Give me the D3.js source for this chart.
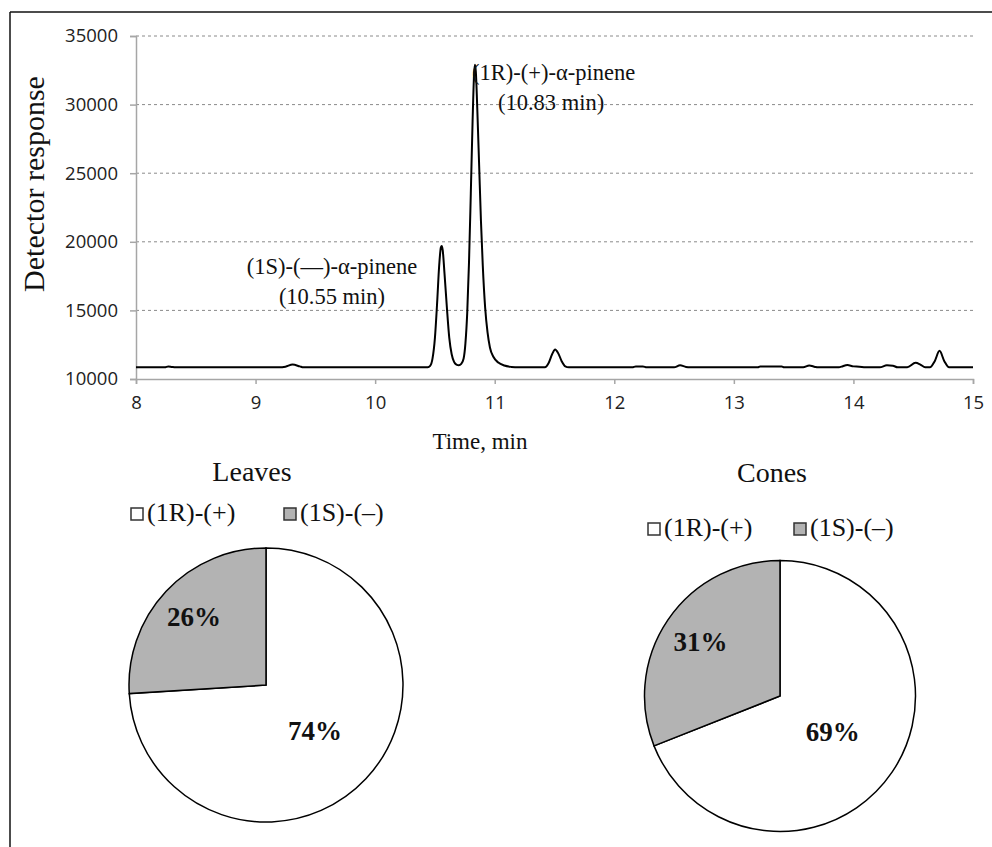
<!DOCTYPE html>
<html>
<head>
<meta charset="utf-8">
<script src="https://cdn.jsdelivr.net/npm/d3@7"></script>
<style>
  html, body { margin: 0; padding: 0; background: #fff; }
  svg { display: block; }
</style>
</head>
<body>
<svg id="chart" width="992" height="847"></svg>
<script>
// ---------------- DATA ----------------
const xTicks = [8, 9, 10, 11, 12, 13, 14, 15];
const yTicks = [10000, 15000, 20000, 25000, 30000, 35000];

// chromatogram trace: [time (min), detector response]
const traceTime = [
  8.00, 8.24, 8.27, 8.30, 8.33,
  9.20, 9.25, 9.31, 9.37, 9.40,
  10.44, 10.46, 10.48, 10.50, 10.52, 10.535, 10.55, 10.557, 10.565, 10.58, 10.60, 10.62, 10.64, 10.66, 10.68, 10.70, 10.72,
  10.74, 10.755, 10.77, 10.785, 10.80, 10.815, 10.828, 10.835, 10.842, 10.855, 10.87, 10.885, 10.90, 10.92, 10.94, 10.96, 10.99, 11.03, 11.08, 11.14, 11.20,
  11.42, 11.45, 11.48, 11.505, 11.53, 11.56, 11.59, 11.62,
  12.15, 12.18, 12.24, 12.27,
  12.50, 12.55, 12.60, 12.63,
  13.20, 13.22, 13.40, 13.42,
  13.58, 13.63, 13.68, 13.70,
  13.88, 13.90, 13.95, 14.00, 14.05, 14.10,
  14.22, 14.28, 14.33, 14.37,
  14.45, 14.52, 14.56, 14.60, 14.64,
  14.68, 14.72, 14.76, 14.80, 15.00
];
const traceResponse = [
  10850, 10850, 10920, 10880, 10850,
  10850, 10900, 11050, 10920, 10850,
  10850, 10950, 11500, 13000, 15800, 18200, 19600, 19700, 19400, 17700, 15200, 13000, 11800, 11250, 11050, 11000, 11100,
  11500, 12600, 14800, 18500, 23500, 28800, 32300, 32900, 32400, 29500, 25500, 21500, 18300, 15200, 13400, 12300, 11600, 11200, 10980, 10880, 10850,
  10850, 11150, 11800, 12150, 11900, 11300, 10920, 10850,
  10850, 10920, 10920, 10850,
  10850, 11000, 10880, 10850,
  10850, 10920, 10920, 10850,
  10850, 10980, 10880, 10850,
  10850, 10900, 11020, 10920, 10900, 10850,
  10850, 11000, 10970, 10850,
  10850, 11180, 11050, 10850, 10850,
  11300, 12050, 11300, 10850, 10850
];

const peakLabels = [
  ["(1R)-(+)-α-pinene", "(10.83 min)"],
  ["(1S)-(—)-α-pinene", "(10.55 min)"]
];

// pie data
const enantiomers = ["(1R)-(+)", "(1S)-(–)"];
const pieTitles = ["Leaves", "Cones"];
const leavesShare = [74, 26];
const conesShare = [69, 31];

// ---------------- DRAW ----------------
const svg = d3.select("#chart");
const serif = "'Liberation Serif', 'Times New Roman', serif";
const sans = "'Open Sans', 'Noto Sans', sans-serif";

// frame (top + left edge)
svg.append("line").attr("x1", 10).attr("y1", 12).attr("x2", 992).attr("y2", 12)
  .attr("stroke", "#111").attr("stroke-width", 1.5);
svg.append("line").attr("x1", 10).attr("y1", 12).attr("x2", 10).attr("y2", 847)
  .attr("stroke", "#111").attr("stroke-width", 1.5);

const x = d3.scaleLinear().domain([8, 15]).range([136, 973]);
const y = d3.scaleLinear().domain([10000, 35000]).range([379, 36]);

// gridlines
svg.append("g").selectAll("line")
  .data(yTicks.filter(d => d > 10000))
  .join("line")
  .attr("x1", x(8)).attr("x2", x(15))
  .attr("y1", d => y(d)).attr("y2", d => y(d))
  .attr("stroke", "#8a8a8a").attr("stroke-width", 1)
  .attr("stroke-dasharray", "3,3");

// axes
const yAxis = svg.append("g").attr("transform", `translate(${x(8)},0)`)
  .call(d3.axisLeft(y).tickValues(yTicks).tickSize(6).tickPadding(12).tickFormat(d3.format("d")));
const xAxis = svg.append("g").attr("transform", `translate(0,${y(10000)})`)
  .call(d3.axisBottom(x).tickValues(xTicks).tickSize(5).tickPadding(12).tickFormat(d3.format("d")));
[yAxis, xAxis].forEach(g => {
  g.select(".domain").attr("stroke", "#a6a6a6").attr("stroke-width", 1.5);
  g.selectAll(".tick line").attr("stroke", "#a6a6a6").attr("stroke-width", 1.5);
  g.selectAll("text").attr("font-family", sans).attr("font-size", 18.5).attr("fill", "#222");
});

// axis titles
svg.append("text")
  .attr("transform", "translate(44,184) rotate(-90)")
  .attr("text-anchor", "middle")
  .attr("font-family", serif).attr("font-size", 30).attr("fill", "#111")
  .text("Detector response");
svg.append("text")
  .attr("x", 480).attr("y", 449)
  .attr("text-anchor", "middle")
  .attr("font-family", serif).attr("font-size", 23).attr("fill", "#111")
  .text("Time, min");

// trace
const trace = traceTime.map((t, i) => [t, traceResponse[i]]);
svg.append("path")
  .datum(trace)
  .attr("fill", "none")
  .attr("stroke", "#000")
  .attr("stroke-width", 2)
  .attr("stroke-linejoin", "round")
  .attr("d", d3.line().x(d => x(d[0])).y(d => y(d[1])).curve(d3.curveMonotoneX));

// peak labels
const peakLabelPos = [
  { x: 472, y: 80, anchor: "start", dx2: 26 },
  { x: 332, y: 274, anchor: "middle", dx2: 0 }
];
peakLabels.forEach((lines, i) => {
  const p = peakLabelPos[i];
  const t = svg.append("text")
    .attr("font-family", serif).attr("font-size", 22.5).attr("fill", "#111")
    .attr("text-anchor", p.anchor);
  t.append("tspan").attr("x", p.x).attr("y", p.y).text(lines[0]);
  t.append("tspan").attr("x", p.x + p.dx2).attr("y", p.y + 30).text(lines[1]);
});

// pies
const pieLayout = [
  { cx: 266, cy: 685, r: 137, titleX: 252, titleY: 481, legY: 521, legX: [131, 284], data: leavesShare, labelFrac: [0.49, 0.72] },
  { cx: 780, cy: 696, r: 135.5, titleX: 772, titleY: 482, legY: 536, legX: [648, 794], data: conesShare, labelFrac: [0.47, 0.71] }
];
const sliceFill = ["#ffffff", "#b3b3b3"];
const pie = d3.pie().sort(null).value(d => d);

pieLayout.forEach((P, k) => {
  const g = svg.append("g");
  g.append("text")
    .attr("x", P.titleX).attr("y", P.titleY)
    .attr("text-anchor", "middle")
    .attr("font-family", serif).attr("font-size", 28).attr("fill", "#111")
    .text(pieTitles[k]);

  // legend
  enantiomers.forEach((name, i) => {
    g.append("rect")
      .attr("x", P.legX[i]).attr("y", P.legY - 13)
      .attr("width", 12).attr("height", 12)
      .attr("fill", sliceFill[i]).attr("stroke", "#333").attr("stroke-width", 1.5);
    g.append("text")
      .attr("x", P.legX[i] + 16).attr("y", P.legY)
      .attr("font-family", serif).attr("font-size", 26).attr("fill", "#111")
      .text(name);
  });

  const arcs = pie(P.data);
  const arc = d3.arc().innerRadius(0).outerRadius(P.r);
  const pg = g.append("g").attr("transform", `translate(${P.cx},${P.cy})`);
  pg.selectAll("path").data(arcs).join("path")
    .attr("d", arc)
    .attr("fill", (d, i) => sliceFill[i])
    .attr("stroke", "#000").attr("stroke-width", 1.5);
  pg.selectAll("text").data(arcs).join("text")
    .attr("transform", (d, i) => {
      const lr = P.r * P.labelFrac[i];
      const c = d3.arc().innerRadius(lr).outerRadius(lr).centroid(d);
      return `translate(${c[0]},${c[1]})`;
    })
    .attr("text-anchor", "middle")
    .attr("dominant-baseline", "central")
    .attr("font-family", serif).attr("font-size", 27).attr("font-weight", "bold").attr("fill", "#111")
    .text(d => d.data + "%");
});
</script>
</body>
</html>
